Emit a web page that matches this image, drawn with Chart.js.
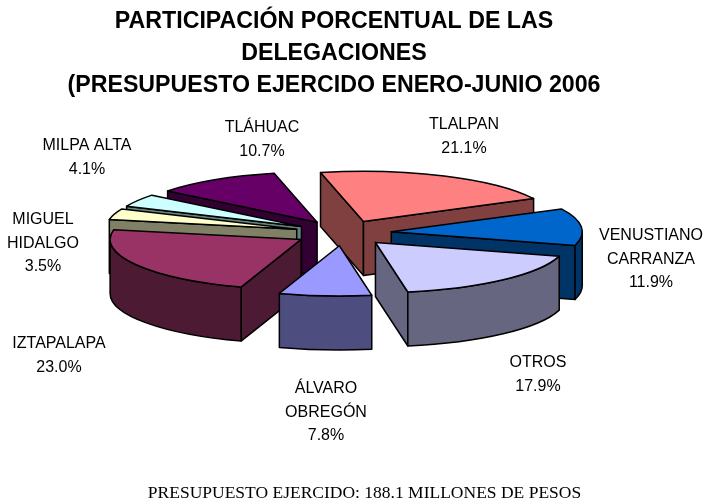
<!DOCTYPE html>
<html><head><meta charset="utf-8">
<style>html,body{margin:0;padding:0;background:#fff}#w{width:711px;height:503px}</style>
<script src="https://cdn.jsdelivr.net/npm/chart.js@4"></script></head>
<body><div id="w"><canvas id="c" width="711" height="503"></canvas></div>
<script>
const categories = ['TLALPAN','VENUSTIANO CARRANZA','OTROS','ÁLVARO OBREGÓN','IZTAPALAPA','MIGUEL HIDALGO','MILPA ALTA','TLÁHUAC'];
const shares = [21.1,11.9,17.9,7.8,23.0,3.5,4.1,10.7];
const labelLines = [['TLALPAN'],['VENUSTIANO','CARRANZA'],['OTROS'],['ÁLVARO','OBREGÓN'],['IZTAPALAPA'],['MIGUEL','HIDALGO'],['MILPA ALTA'],['TLÁHUAC']];
const topColors = ['#FF8080','#0066CC','#CCCCFF','#9999FF','#993366','#FFFFCC','#CCFFFF','#660066'];
const wallColors = ['#804040','#003366','#666680','#4D4D80','#4D1A33','#808066','#668080','#330033'];
const titleLines = ['PARTICIPACIÓN PORCENTUAL DE LAS','DELEGACIONES','(PRESUPUESTO EJERCIDO ENERO-JUNIO 2006'];
const footerText = 'PRESUPUESTO EJERCIDO: 188.1 MILLONES DE PESOS';

// Presentation only
const drawOrder = [7,6,5,4,0,1,2,3];
const labelAnchors = [[464,124],[651,235],[538,362],[326,388],[59,343],[43,219],[87,145],[262,127]];
const PIE_X = 343, PIE_Y = 233, RADIUS = 191, SQUASH = 0.263, EXPLODE = 48.5, DEPTH = 54;

const pie3d = {
  id:'pie3d',
  beforeDatasetDraw(chart){
    const ctx = chart.ctx, arcs = chart.getDatasetMeta(0).data;
    ctx.lineJoin='round';
    for(const i of drawOrder){
      const el = arcs[i];
      const a1 = el.startAngle, a2 = el.endAngle, mid=(a1+a2)/2, R=el.outerRadius;
      const ax = PIE_X+EXPLODE*Math.cos(mid), ay = PIE_Y+SQUASH*EXPLODE*Math.sin(mid);
      const pt = a=>[ax+R*Math.cos(a), ay+R*SQUASH*Math.sin(a)];
      ctx.strokeStyle='#000'; ctx.lineWidth=1.5; ctx.fillStyle=wallColors[i];
      const wall = a=>{
        const p=pt(a);
        ctx.beginPath();ctx.moveTo(ax,ay);ctx.lineTo(p[0],p[1]);ctx.lineTo(p[0],p[1]+DEPTH);ctx.lineTo(ax,ay+DEPTH);ctx.closePath();ctx.fill();ctx.stroke();
      };
      if(Math.cos(a1)<0) wall(a1);
      if(Math.cos(a2)>0) wall(a2);
      const lo=Math.max(a1,0), hi=Math.min(a2,Math.PI);
      if(lo<hi){
        ctx.beginPath();
        ctx.ellipse(ax,ay,R,R*SQUASH,0,lo,hi,false);
        ctx.ellipse(ax,ay+DEPTH,R,R*SQUASH,0,hi,lo,true);
        ctx.closePath();ctx.fill();ctx.stroke();
      }
      // top face through the library's arc element
      ctx.save();
      ctx.translate(ax,ay);ctx.scale(1,SQUASH);ctx.translate(-el.x,-el.y);
      el.draw(ctx);
      ctx.restore();
      ctx.beginPath();
      ctx.moveTo(ax,ay);
      ctx.ellipse(ax,ay,R,R*SQUASH,0,a1,a2,false);
      ctx.closePath();ctx.stroke();
    }
    return false;
  },
  afterDraw(chart){
    const ctx=chart.ctx;
    ctx.save();
    ctx.fillStyle='#000';ctx.textAlign='center';ctx.textBaseline='middle';
    ctx.font='16px "Liberation Sans"';
    shares.forEach((v,i)=>{
      const [x,y]=labelAnchors[i];
      [...labelLines[i],v.toFixed(1)+'%'].forEach((t,k)=>ctx.fillText(t,x,y+1+k*23.5));
    });
    ctx.font='17.5px "Liberation Serif"';
    ctx.fillText(footerText,364.5,493);
    ctx.restore();
  }
};

new Chart(document.getElementById('c'),{
  type:'pie',
  data:{labels:categories,datasets:[{data:shares,backgroundColor:topColors,borderWidth:0,radius:RADIUS}]},
  plugins:[pie3d],
  options:{
    responsive:false,animation:false,rotation:-13,
    layout:{padding:{right:43,top:0,bottom:0,left:0}},
    events:[],
    plugins:{
      legend:{display:false},tooltip:{enabled:false},
      title:{display:true,text:titleLines,color:'#000',font:{family:'"Liberation Sans"',size:23.2,weight:'bold',lineHeight:1.37},padding:{top:6,bottom:0}}
    }
  }
});
</script></body></html>
